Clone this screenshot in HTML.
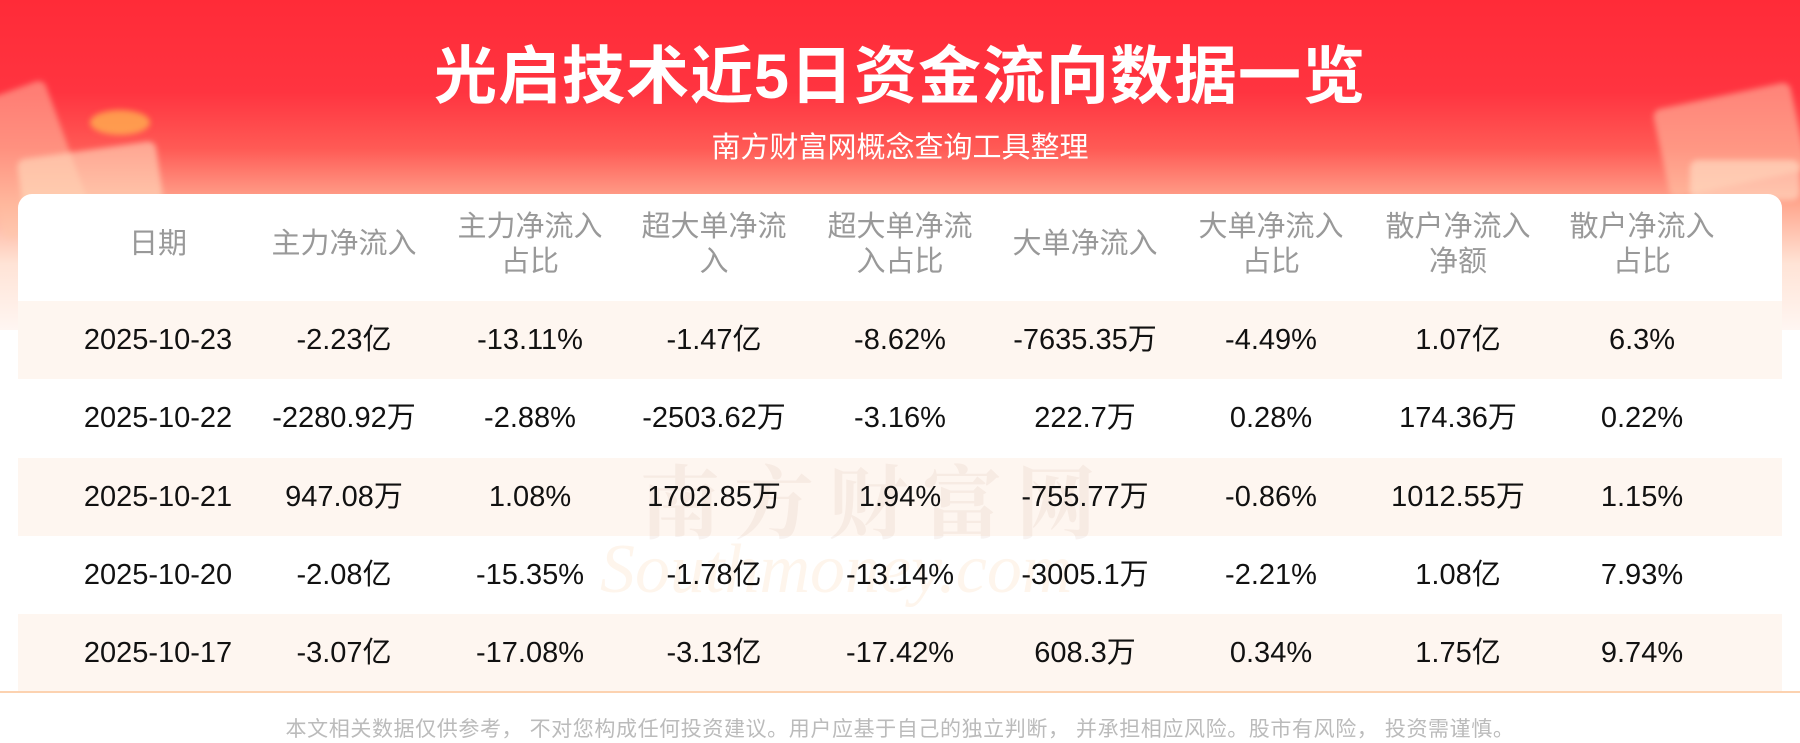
<!DOCTYPE html>
<html><head><meta charset="utf-8">
<style>
*{margin:0;padding:0;box-sizing:border-box}
body{width:1800px;height:743px;overflow:hidden;position:relative;background:#fff;font-family:"Liberation Sans","Noto Sans CJK SC",sans-serif}
.bg{position:absolute;left:0;top:0;width:1800px;height:330px;background:linear-gradient(180deg,#ff2b38 0%,#ff3440 28%,#ff5a55 45%,#ffa890 62%,#ffe3d6 80%,#fff6f2 100%)}
.deco{position:absolute;border-radius:8px;filter:blur(3px)}
.title{position:absolute;top:26px;left:0;width:1800px;text-align:center;color:#fff;font-size:63px;font-weight:bold;letter-spacing:1px}
.sub{position:absolute;top:124px;left:0;width:1800px;text-align:center;color:#fff;font-size:29px}
.card{position:absolute;left:18px;top:194px;width:1764px;height:520px;background:#fff;border-radius:14px 14px 0 0}
.row{position:absolute;left:18px;width:1764px;height:78px}
.sh{background:#fef6f0}
.c{position:absolute;width:186px;text-align:center;transform:translateX(-50%)}
.h{color:#999;font-size:29px;line-height:35px}
.d{color:#111;font-size:29px;line-height:78px;top:0}
.line{position:absolute;left:0;top:691px;width:1800px;height:2px;background:#fcd2b0}
.foot{position:absolute;top:713px;left:0;width:1800px;text-align:center;color:#bbb;font-size:21px;letter-spacing:0.6px}
.wm{position:absolute;left:640px;top:440px;font-size:80px;color:rgba(200,160,140,0.12);font-weight:bold;letter-spacing:14px;font-family:"Liberation Serif","Noto Serif CJK SC",serif}
.wm2{position:absolute;left:600px;top:530px;font-size:70px;color:rgba(250,170,100,0.12);font-style:italic;font-family:"Liberation Serif",serif}
</style></head><body>
<div class="bg"></div>
<div class="deco" style="left:-20px;top:90px;width:90px;height:140px;background:rgba(255,200,170,0.5);transform:rotate(-20deg)"></div>
<div class="deco" style="left:20px;top:150px;width:140px;height:60px;background:rgba(255,220,190,0.6);transform:rotate(-8deg)"></div>
<div class="deco" style="left:90px;top:110px;width:60px;height:25px;background:rgba(255,190,80,0.7);border-radius:50%"></div>
<div class="deco" style="left:1660px;top:95px;width:140px;height:90px;background:rgba(255,200,170,0.55);transform:rotate(-12deg)"></div>
<div class="deco" style="left:1690px;top:160px;width:110px;height:40px;background:rgba(255,225,200,0.6)"></div>
<div class="title">光启技术近5日资金流向数据一览</div>
<div class="sub">南方财富网概念查询工具整理</div>
<div class="card"></div>
<div class="h c" style="left:158px;top:227px">日期</div>
<div class="h c" style="left:344px;top:227px">主力净流入</div>
<div class="h c" style="left:530px;top:210px">主力净流入<br>占比</div>
<div class="h c" style="left:714px;top:210px">超大单净流<br>入</div>
<div class="h c" style="left:900px;top:210px">超大单净流<br>入占比</div>
<div class="h c" style="left:1085px;top:227px">大单净流入</div>
<div class="h c" style="left:1271px;top:210px">大单净流入<br>占比</div>
<div class="h c" style="left:1458px;top:210px">散户净流入<br>净额</div>
<div class="h c" style="left:1642px;top:210px">散户净流入<br>占比</div>

<div class="row sh" style="top:301px"></div>
<div class="row" style="top:379px"></div>
<div class="row sh" style="top:458px"></div>
<div class="row" style="top:536px"></div>
<div class="row sh" style="top:614px"></div>
<div class="wm">南方财富网</div>
<div class="wm2">Southmoney.com</div>
<div class="line"></div>

<div style="position:absolute;left:0;top:301px;width:1800px;height:78px">
<div class="d c" style="left:158px">2025-10-23</div><div class="d c" style="left:344px">-2.23亿</div><div class="d c" style="left:530px">-13.11%</div><div class="d c" style="left:714px">-1.47亿</div><div class="d c" style="left:900px">-8.62%</div><div class="d c" style="left:1085px">-7635.35万</div><div class="d c" style="left:1271px">-4.49%</div><div class="d c" style="left:1458px">1.07亿</div><div class="d c" style="left:1642px">6.3%</div></div>
<div style="position:absolute;left:0;top:379px;width:1800px;height:78px">
<div class="d c" style="left:158px">2025-10-22</div><div class="d c" style="left:344px">-2280.92万</div><div class="d c" style="left:530px">-2.88%</div><div class="d c" style="left:714px">-2503.62万</div><div class="d c" style="left:900px">-3.16%</div><div class="d c" style="left:1085px">222.7万</div><div class="d c" style="left:1271px">0.28%</div><div class="d c" style="left:1458px">174.36万</div><div class="d c" style="left:1642px">0.22%</div></div>
<div style="position:absolute;left:0;top:458px;width:1800px;height:78px">
<div class="d c" style="left:158px">2025-10-21</div><div class="d c" style="left:344px">947.08万</div><div class="d c" style="left:530px">1.08%</div><div class="d c" style="left:714px">1702.85万</div><div class="d c" style="left:900px">1.94%</div><div class="d c" style="left:1085px">-755.77万</div><div class="d c" style="left:1271px">-0.86%</div><div class="d c" style="left:1458px">1012.55万</div><div class="d c" style="left:1642px">1.15%</div></div>
<div style="position:absolute;left:0;top:536px;width:1800px;height:78px">
<div class="d c" style="left:158px">2025-10-20</div><div class="d c" style="left:344px">-2.08亿</div><div class="d c" style="left:530px">-15.35%</div><div class="d c" style="left:714px">-1.78亿</div><div class="d c" style="left:900px">-13.14%</div><div class="d c" style="left:1085px">-3005.1万</div><div class="d c" style="left:1271px">-2.21%</div><div class="d c" style="left:1458px">1.08亿</div><div class="d c" style="left:1642px">7.93%</div></div>
<div style="position:absolute;left:0;top:614px;width:1800px;height:78px">
<div class="d c" style="left:158px">2025-10-17</div><div class="d c" style="left:344px">-3.07亿</div><div class="d c" style="left:530px">-17.08%</div><div class="d c" style="left:714px">-3.13亿</div><div class="d c" style="left:900px">-17.42%</div><div class="d c" style="left:1085px">608.3万</div><div class="d c" style="left:1271px">0.34%</div><div class="d c" style="left:1458px">1.75亿</div><div class="d c" style="left:1642px">9.74%</div></div>

<div class="foot">本文相关数据仅供参考， 不对您构成任何投资建议。用户应基于自己的独立判断， 并承担相应风险。股市有风险， 投资需谨慎。</div>
</body></html>
